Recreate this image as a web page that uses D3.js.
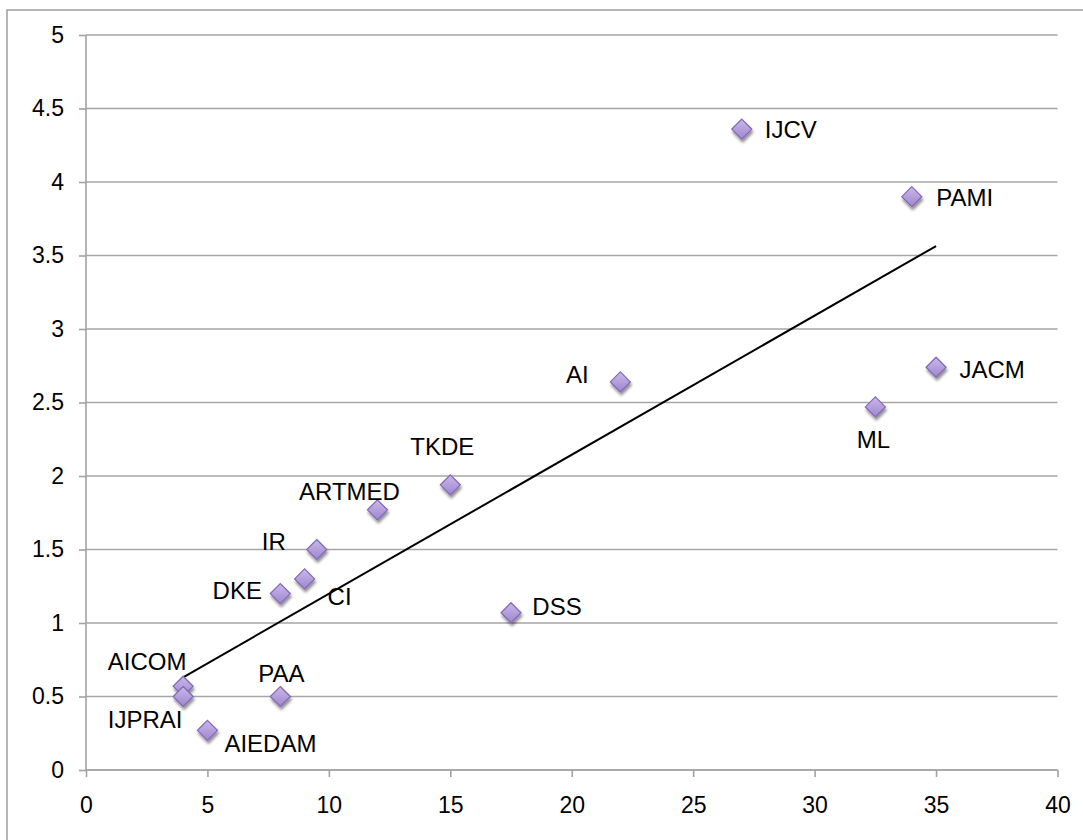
<!DOCTYPE html>
<html>
<head>
<meta charset="utf-8">
<script src="https://cdn.jsdelivr.net/npm/d3@7"></script>
<style>
  body { margin: 0; background: #fff; }
  svg { display: block; font-family: "Liberation Sans", Arial, Helvetica, sans-serif; }
</style>
</head>
<body>
<div id="chart"></div>
<script>
// journal names and their two values (x, y)
var venues  = ["IJCV", "PAMI", "JACM", "ML", "AI", "TKDE", "ARTMED", "IR", "CI", "DKE", "DSS", "AICOM", "IJPRAI", "PAA", "AIEDAM"];
var xValues = [27, 34, 35, 32.5, 22, 15, 12, 9.5, 9, 8, 17.5, 4, 4, 8, 5];
var yValues = [4.36, 3.9, 2.74, 2.47, 2.64, 1.94, 1.77, 1.5, 1.3, 1.2, 1.07, 0.57, 0.5, 0.5, 0.27];

// tick labels
var xTicks = [0, 5, 10, 15, 20, 25, 30, 35, 40];
var yTicks = [0, 0.5, 1, 1.5, 2, 2.5, 3, 3.5, 4, 4.5, 5];

// where each data label sits relative to its marker (pixels)
var labelOffsets = {
	IJCV: [49, 0], PAMI: [53, 1], JACM: [56, 2], ML: [-2, 33], AI: [-43, -7],
	TKDE: [-8, -38], ARTMED: [-28, -18], IR: [-43, -8], CI: [35, 18], DKE: [-43, -3],
	DSS: [46, -6], AICOM: [-36, -25], IJPRAI: [-38, 23], PAA: [1, -23], AIEDAM: [63, 13]
};

var W = 1083, H = 840;
var plotL = 86, plotR = 1057.5, plotT = 35, plotB = 770;

var svg = d3.select("#chart").append("svg").attr("width", W).attr("height", H);

// drop shadow + gradient for the diamonds
var defs = svg.append("defs");
var f = defs.append("filter").attr("id", "shadow").attr("x", "-50%").attr("y", "-50%").attr("width", "200%").attr("height", "200%");
f.append("feGaussianBlur").attr("in", "SourceAlpha").attr("stdDeviation", 1.8);
f.append("feOffset").attr("dx", 1).attr("dy", 3).attr("result", "ob");
f.append("feComponentTransfer").append("feFuncA").attr("type", "linear").attr("slope", 0.45);
var m = f.append("feMerge");
m.append("feMergeNode");
m.append("feMergeNode").attr("in", "SourceGraphic");

var g = defs.append("linearGradient").attr("id", "dfill").attr("x1", 0).attr("y1", 0).attr("x2", 0).attr("y2", 1);
g.append("stop").attr("offset", "0%").attr("stop-color", "#c9b9e8");
g.append("stop").attr("offset", "100%").attr("stop-color", "#9f86cf");

// outer frame (runs off the right and bottom edges)
svg.append("rect").attr("x", 7).attr("y", 10).attr("width", 1100).attr("height", 900)
	.attr("fill", "none").attr("stroke", "#a3a3a3").attr("stroke-width", 1.6);

var x = d3.scaleLinear().domain([0, 40]).range([plotL, plotR]);
var y = d3.scaleLinear().domain([0, 5]).range([plotB, plotT]);

// horizontal grid lines
svg.selectAll("line.grid").data(yTicks).enter().append("line")
	.attr("class", "grid")
	.attr("x1", plotL).attr("x2", plotR)
	.attr("y1", function(d) { return y(d); }).attr("y2", function(d) { return y(d); })
	.attr("stroke", "#a6a6a6").attr("stroke-width", 1.6);

// y axis
var yAxis = d3.axisLeft(y).tickValues(yTicks).tickSize(7).tickPadding(15)
	.tickFormat(function(d) { return String(d); });
var ya = svg.append("g").attr("transform", "translate(" + plotL + ",0)").call(yAxis);

// x axis
var xAxis = d3.axisBottom(x).tickValues(xTicks).tickSize(7).tickPadding(20)
	.tickFormat(function(d) { return String(d); });
var xa = svg.append("g").attr("transform", "translate(0," + plotB + ")").call(xAxis);

[ya, xa].forEach(function(a) {
	a.select(".domain").attr("stroke", "#a3a3a3").attr("stroke-width", 1.6);
	a.selectAll(".tick line").attr("stroke", "#a3a3a3").attr("stroke-width", 1.6);
	a.selectAll(".tick text").attr("fill", "#000").style("font-size", "23px")
		.style("font-family", "'Liberation Sans', Arial, sans-serif");
});
ya.select(".domain").attr("d", "M0," + plotT + "V" + plotB);
xa.select(".domain").attr("d", "M" + plotL + ",0H" + plotR);

var data = venues.map(function(n, i) { return { name: n, x: xValues[i], y: yValues[i] }; });

// linear trend line (least squares), drawn from min x to max x
var mx = d3.mean(data, function(d) { return d.x; });
var my = d3.mean(data, function(d) { return d.y; });
var sxy = d3.sum(data, function(d) { return (d.x - mx) * (d.y - my); });
var sxx = d3.sum(data, function(d) { return (d.x - mx) * (d.x - mx); });
var slope = sxy / sxx, icpt = my - slope * mx;
var xr = d3.extent(data, function(d) { return d.x; });
svg.append("path")
	.datum(xr.map(function(v) { return { x: v, y: icpt + slope * v }; }))
	.attr("d", d3.line().x(function(d) { return x(d.x); }).y(function(d) { return y(d.y); }))
	.attr("fill", "none").attr("stroke", "#000").attr("stroke-width", 2);

// diamond markers
var r = 10;
svg.selectAll("path.pt").data(data).enter().append("path")
	.attr("class", "pt")
	.attr("d", "M0," + (-r) + "L" + r + ",0L0," + r + "L" + (-r) + ",0Z")
	.attr("transform", function(d) { return "translate(" + x(d.x) + "," + y(d.y) + ")"; })
	.attr("fill", "url(#dfill)").attr("stroke", "#8367b8").attr("stroke-width", 1.2)
	.attr("filter", "url(#shadow)");

// data labels
svg.selectAll("text.lbl").data(data).enter().append("text")
	.attr("class", "lbl")
	.attr("x", function(d) { return x(d.x) + labelOffsets[d.name][0]; })
	.attr("y", function(d) { return y(d.y) + labelOffsets[d.name][1]; })
	.attr("text-anchor", "middle").attr("dominant-baseline", "central")
	.style("font-size", "24px").attr("fill", "#000")
	.text(function(d) { return d.name; });
</script>
</body>
</html>
